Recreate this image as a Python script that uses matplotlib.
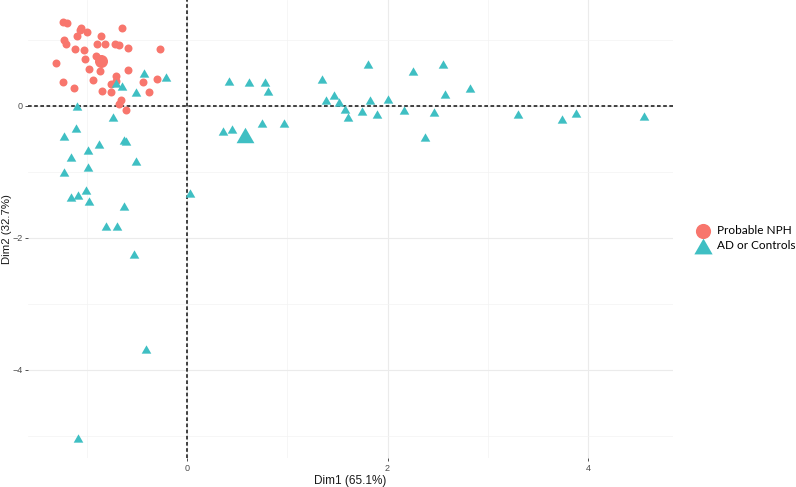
import numpy as np
import matplotlib
matplotlib.use("Agg")
import matplotlib.pyplot as plt
from matplotlib.path import Path

# PCA individuals (Dim1, Dim2)
npH_x = [-1.24, -1.20, -1.06, -1.07, -1.00, -0.65, -1.10, -0.86, -1.23, -1.21,
         -0.90, -0.82, -0.72, -0.68, -1.12, -1.03, -0.59, -0.27, -0.91, -1.31,
         -1.02, -0.98, -0.87, -0.59, -0.71, -1.24, -0.94, -0.71, -0.76, -0.30,
         -0.44, -1.13, -0.85, -0.76, -0.38, -0.66, -0.68, -0.61]
npH_y = [1.27, 1.25, 1.18, 1.14, 1.11, 1.17, 1.05, 1.06, 1.00, 0.94,
         0.93, 0.94, 0.94, 0.92, 0.85, 0.84, 0.87, 0.85, 0.75, 0.65,
         0.70, 0.55, 0.52, 0.54, 0.45, 0.36, 0.39, 0.37, 0.32, 0.41,
         0.36, 0.26, 0.22, 0.20, 0.21, 0.09, 0.03, -0.06]

ad_x = [-0.43, -0.21, -0.71, -0.65, -0.51, -1.10, -0.74, -1.11, -1.23, -0.88,
        -0.63, -0.61, -0.99, -1.16, -0.51, -1.23, -0.99, -1.01, -1.09, -1.16,
        -0.98, -0.63, 0.03, -0.81, -0.70, -0.53, -0.41, -1.09, 0.42, 0.62,
        0.78, 0.81, 1.35, 1.80, 1.39, 1.47, 1.52, 1.58, 1.61, 1.74,
        1.82, 1.89, 0.36, 0.45, 0.75, 0.97, 2.00, 2.16, 2.25, 2.37,
        2.46, 2.55, 2.57, 2.82, 3.30, 3.74, 3.88, 4.56]
ad_y = [0.49, 0.43, 0.34, 0.30, 0.20, 0.00, -0.18, -0.34, -0.46, -0.58,
        -0.52, -0.53, -0.68, -0.78, -0.84, -1.00, -0.93, -1.28, -1.35, -1.39,
        -1.44, -1.52, -1.33, -1.82, -1.83, -2.25, -3.69, -5.03, 0.38, 0.35,
        0.36, 0.22, 0.41, 0.63, 0.09, 0.16, 0.06, -0.05, -0.17, -0.08,
        0.08, -0.12, -0.38, -0.35, -0.27, -0.27, 0.10, -0.06, 0.52, -0.47,
        -0.09, 0.63, 0.17, 0.27, -0.12, -0.20, -0.11, -0.16]

# group centroids (bigger markers)
npH_mean = (-0.86, 0.68)
ad_mean = (0.58, -0.44)

labels = ["Probable NPH", "AD or Controls"]
red = "#F8766D"
teal = "#3FBFC3"

# equilateral-ish triangle like ggplot shape 17
tri = Path([(-1, -0.866), (1, -0.866), (0, 0.866), (-1, -0.866)],
           [Path.MOVETO, Path.LINETO, Path.LINETO, Path.CLOSEPOLY])

fig = plt.figure(figsize=(7.96, 4.87), dpi=100)
ax = fig.add_axes([28/796, 29/487, 645/796, 458/487])

ax.scatter(npH_x, npH_y, s=33, marker='o', color=red, linewidths=0,
           label=labels[0], zorder=3)
ax.scatter(ad_x, ad_y, s=48, marker=tri, color=teal, linewidths=0,
           label=labels[1], zorder=3)
ax.scatter([npH_mean[0]], [npH_mean[1]], s=88, marker='o', color=red,
           linewidths=0, zorder=3)
ax.scatter([ad_mean[0]], [ad_mean[1]], s=165, marker=tri, color=teal,
           linewidths=0, zorder=3)

ax.axhline(0, color='#222222', lw=1.2, ls=(0, (2.2, 1.5)), zorder=2)
ax.axvline(0, color='#222222', lw=1.2, ls=(0, (2.2, 1.5)), zorder=2)

ax.set_xlim(-1.59, 4.85)
ax.set_ylim(-5.34, 1.60)
ax.set_xticks([0, 2, 4])
ax.set_yticks([-4, -2, 0])
ax.set_xticks([-1, 1, 3], minor=True)
ax.set_yticks([-5, -3, -1, 1], minor=True)
ax.grid(True, which='major', color='#EBEBEB', lw=0.8)
ax.grid(True, which='minor', color='#F3F3F3', lw=0.5)
ax.set_axisbelow(True)
for sp in ax.spines.values():
    sp.set_visible(False)
ax.tick_params(which='major', length=2.5, width=0.6, color='#333333',
               labelsize=6.5, labelcolor='#4D4D4D', pad=1.5)
ax.tick_params(which='minor', length=0)

ax.set_xlabel("Dim1 (65.1%)", fontsize=8.5, color='#1A1A1A',
              family='Liberation Sans')
ax.set_ylabel("Dim2 (32.7%)", fontsize=8.2, color='#1A1A1A',
              family='Liberation Sans')
ax.xaxis.set_label_coords(350/796, 1 - 475/487, transform=fig.transFigure)
ax.yaxis.set_label_coords(12.5/796, 1 - 229/487, transform=fig.transFigure)
for t in ax.get_xticklabels() + ax.get_yticklabels():
    t.set_family('Liberation Sans')

leg = ax.legend(loc='center left', bbox_to_anchor=(691/796, 1 - 238/487),
                bbox_transform=fig.transFigure, frameon=False,
                markerscale=1.9, handletextpad=0.6, labelspacing=0.4,
                prop={'family': 'Lato', 'size': 8.5}, borderpad=0,
                handlelength=1.1)

fig.savefig("out.png", dpi=100)
